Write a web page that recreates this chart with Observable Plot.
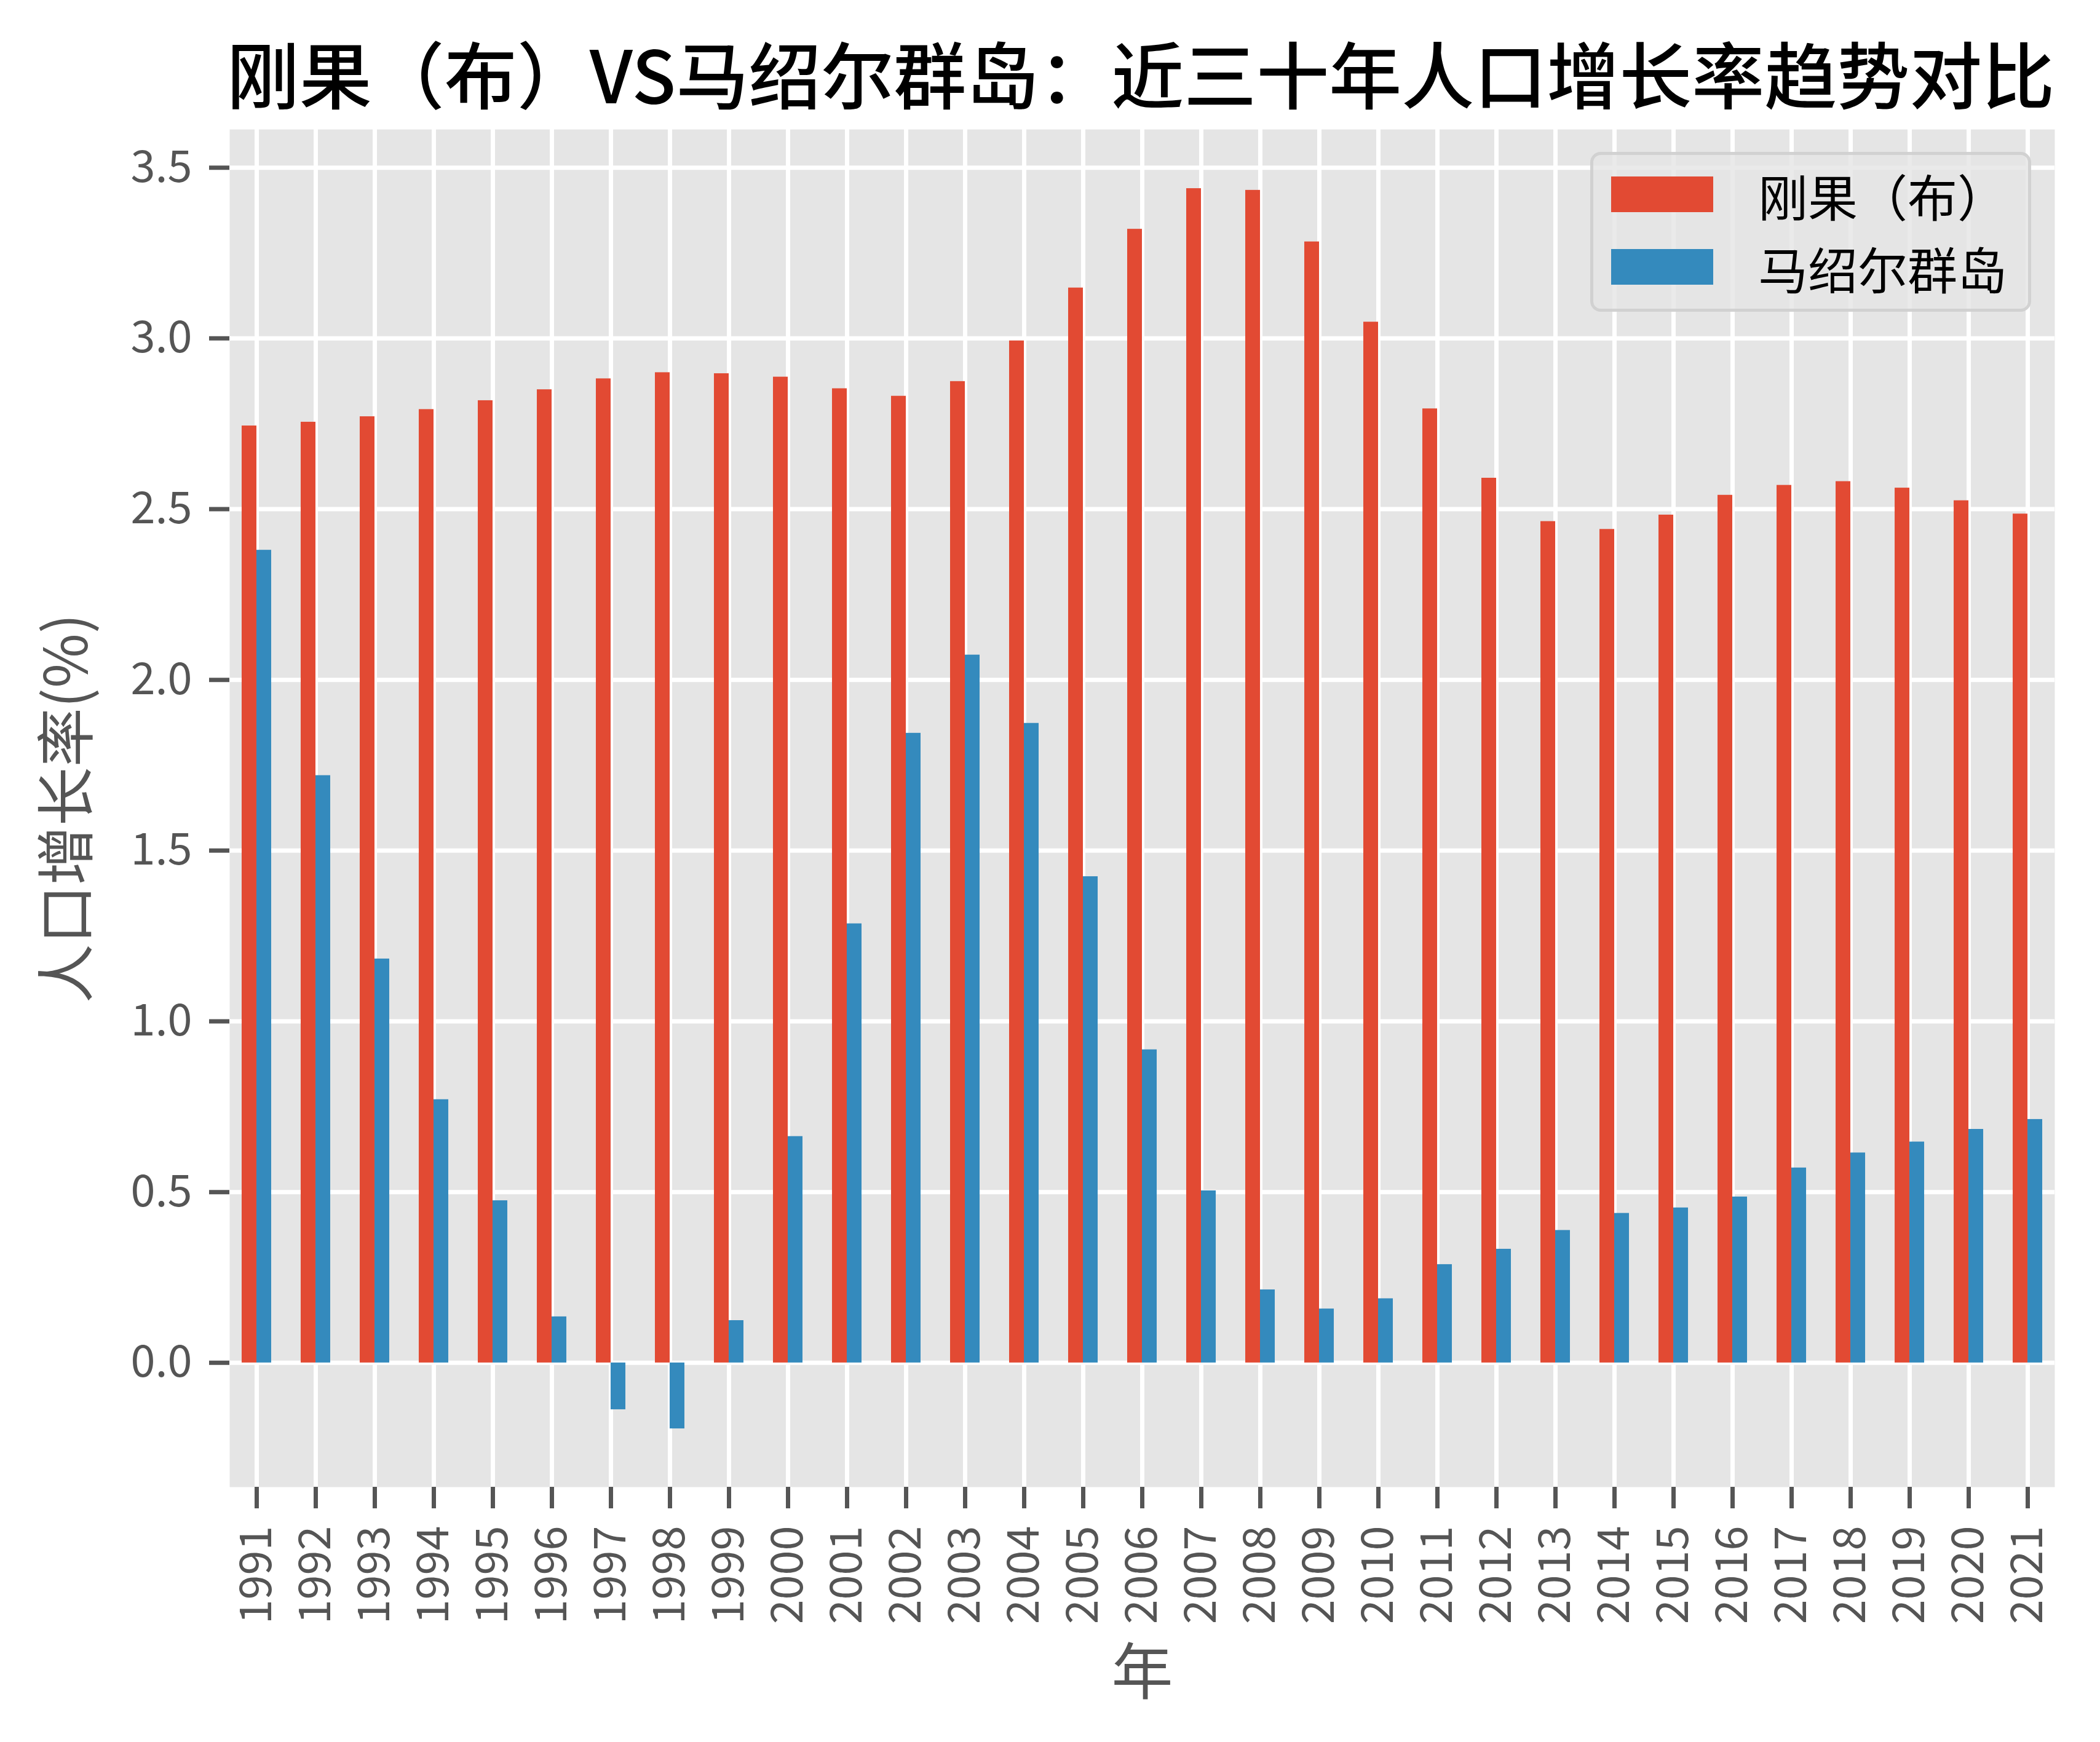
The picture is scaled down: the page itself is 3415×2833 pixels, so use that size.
<!DOCTYPE html>
<html>
<head>
<meta charset="utf-8">
<script src="https://cdn.jsdelivr.net/npm/d3@7"></script>
<script src="https://cdn.jsdelivr.net/npm/@observablehq/plot@0.6"></script>
<style>
  html, body { margin: 0; padding: 0; background: #ffffff; }
  #fig { position: relative; width: 3415px; height: 2833px; background: #ffffff; overflow: hidden;
         font-family: "Noto Sans CJK SC", "Noto Sans", sans-serif; }
  #title { position: relative; height: 190px; width: 3415px; }
  #title span { position: absolute; left: 1855px; top: 58px; transform: translateX(-50%);
                font-size: 118px; line-height: 118px; color: #000; white-space: nowrap; font-weight: 500; }
  #legend { position: absolute; left: 2586px; top: 247px; width: 707px; height: 250px;
            background: rgba(229,229,229,0.8); border: 5px solid rgba(204,204,204,0.8); border-radius: 17px; }
  .sw { position: absolute; left: 29px; width: 166px; height: 58px; }
  .lt { position: absolute; left: 268px; font-size: 81px; line-height: 81px; color: #000; white-space: nowrap; }
</style>
</head>
<body>
<div id="fig">
  <div id="title"><span></span></div>
  <div id="chart"></div>
  <div id="legend"></div>
</div>
<script>
// ---- data ----
const titleText = "刚果（布）VS马绍尔群岛：近三十年人口增长率趋势对比";
const yLabel = "人口增长率(%)";
const xLabel = "年";
const seriesNames = ["刚果（布）", "马绍尔群岛"];
const seriesColors = ["#E24A33", "#348ABD"];
const years = [1991,1992,1993,1994,1995,1996,1997,1998,1999,2000,2001,2002,2003,2004,2005,2006,2007,2008,2009,2010,2011,2012,2013,2014,2015,2016,2017,2018,2019,2020,2021];
const congo = [2.744,2.755,2.771,2.792,2.818,2.850,2.882,2.900,2.897,2.887,2.853,2.831,2.874,2.993,3.148,3.320,3.439,3.434,3.283,3.048,2.794,2.591,2.464,2.441,2.483,2.541,2.570,2.581,2.562,2.525,2.486];
const marshall = [2.380,1.720,1.183,0.771,0.475,0.135,-0.137,-0.193,0.124,0.663,1.286,1.844,2.073,1.873,1.424,0.917,0.504,0.214,0.158,0.188,0.288,0.333,0.388,0.438,0.454,0.486,0.571,0.615,0.647,0.684,0.713];
const yTicks = [0, 0.5, 1.0, 1.5, 2.0, 2.5, 3.0, 3.5];

// grouped bars: each series takes a quarter of a year slot
const barW = 0.25;
const rows = [];
years.forEach((yr, i) => {
  rows.push({year: yr, series: seriesNames[0], value: congo[i], x1: yr - barW, x2: yr});
  rows.push({year: yr, series: seriesNames[1], value: marshall[i], x1: yr, x2: yr + barW});
});

document.querySelector("#title span").textContent = titleText;

const chart = Plot.plot({
  width: 3415,
  height: 2643,
  marginTop: 20,
  marginBottom: 415,
  marginLeft: 373,
  marginRight: 74,
  style: {fontFamily: "'Noto Sans CJK SC', 'Noto Sans', sans-serif", fontSize: "72px", color: "#555555", background: "#ffffff", overflow: "visible"},
  x: {domain: [years[0] - 0.458, years[years.length - 1] + 0.458]},
  y: {domain: [-0.364, 3.612]},
  color: {domain: seriesNames, range: seriesColors},
  marks: [
    Plot.frame({fill: "#E5E5E5"}),
    Plot.gridX(years, {stroke: "#ffffff", strokeOpacity: 1, strokeWidth: 7}),
    Plot.gridY(yTicks, {stroke: "#ffffff", strokeOpacity: 1, strokeWidth: 7}),
    Plot.rectY(rows, {x1: "x1", x2: "x2", y1: 0, y2: "value", fill: "series"}),
    Plot.axisX(years, {
      tickSize: 35, tickPadding: 28, tickRotate: -90, strokeWidth: 7, stroke: "#555555",
      tickFormat: d3.format("d"), fontSize: 72, label: null
    }),
    Plot.axisY(yTicks, {
      tickSize: 33, tickPadding: 28, strokeWidth: 7, stroke: "#555555",
      tickFormat: d3.format(".1f"), fontSize: 72, label: null
    }),
    Plot.text([xLabel], {frameAnchor: "bottom", dy: 304, fontSize: 100, fill: "#555555", lineAnchor: "middle", textAnchor: "middle"}),
    Plot.text([yLabel], {frameAnchor: "left", dx: -262, rotate: -90, fontSize: 96, fill: "#555555", lineAnchor: "middle", textAnchor: "middle"})
  ]
});
document.getElementById("chart").appendChild(chart);

// legend
const legend = document.getElementById("legend");
seriesNames.forEach((name, i) => {
  const sw = document.createElement("div");
  sw.className = "sw";
  sw.style.top = (35 + i * 118) + "px";
  sw.style.background = seriesColors[i];
  legend.appendChild(sw);
  const t = document.createElement("div");
  t.className = "lt";
  t.style.top = (24 + i * 118) + "px";
  t.textContent = name;
  legend.appendChild(t);
});
</script>
</body>
</html>
